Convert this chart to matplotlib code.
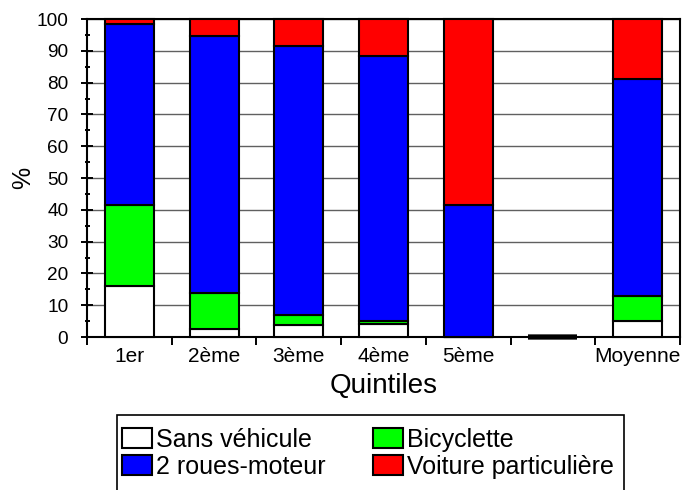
import numpy as np
import matplotlib
matplotlib.use('Agg')
import matplotlib.pyplot as plt
from matplotlib.ticker import MultipleLocator
from matplotlib.patches import Rectangle

plt.rcParams['font.family'] = ['Liberation Sans', 'DejaVu Sans']

quintiles = ['1er', '2ème', '3ème', '4ème', '5ème', '', 'Moyenne']
sans_vehicule = [16.0, 2.5, 3.8, 4.1, 0.0, 0.0, 5.1]
bicyclette = [25.5, 11.4, 3.1, 0.9, 0.0, 0.0, 7.8]
deux_roues = [57.0, 80.9, 84.6, 83.4, 41.5, 0.0, 68.3]
voiture = [1.5, 5.2, 8.5, 11.6, 58.5, 0.0, 18.8]

fig = plt.figure(figsize=(6.82, 4.90), dpi=100)
ax = fig.add_axes([0.1276, 0.3122, 0.8694, 0.6490])

x = np.arange(len(quintiles))
w = 0.58
bas = np.zeros(len(x))
series = [(sans_vehicule, '#ffffff', 'Sans véhicule'),
          (bicyclette, '#00ff00', 'Bicyclette'),
          (deux_roues, '#0000ff', '2 roues-moteur'),
          (voiture, '#ff0000', 'Voiture particulière')]
total = np.sum([s[0] for s in series], axis=0)
# une barre vide apparait comme un trait epais sur l'axe
epaisseur = [1.5 if t > 0 else 3.2 for t in total]
handles = []
for vals, col, lab in series:
    b = ax.bar(x, vals, w, bottom=bas, color=col, edgecolor='black',
               linewidth=epaisseur, label=lab, zorder=3, clip_on=False)
    handles.append(b)
    bas = bas + np.array(vals)

ax.set_xlim(-0.5, len(x) - 0.5)
ax.set_ylim(0, 100)
ax.yaxis.set_major_locator(MultipleLocator(10))
ax.yaxis.set_minor_locator(MultipleLocator(5))
ax.set_xticks(x)
ax.set_xticklabels(quintiles, fontsize=15)
ax.tick_params(axis='x', length=0, pad=7)
ax.set_xticks(np.arange(len(x) + 1) - 0.5, minor=True)
ax.tick_params(axis='x', which='minor', direction='out', length=6, width=1.4)
ax.tick_params(axis='y', which='major', direction='inout', length=8, width=1.4, labelsize=13.7, pad=9.5)
ax.tick_params(axis='y', which='minor', direction='inout', length=3.6, width=1.4)
ax.yaxis.grid(True, color='#606060', linewidth=1, zorder=0)
ax.set_axisbelow(True)
for s in ax.spines.values():
    s.set_linewidth(1.5)

ax.set_ylabel('%', fontsize=18, labelpad=1)
ax.set_xlabel('Quintiles', fontsize=20, labelpad=5)

# cadre de la legende (coupe en bas dans l'original)
cadre = Rectangle((117/682, -0.05), (624 - 117)/682, (490 - 415)/490 + 0.05,
                  transform=fig.transFigure, facecolor='white', edgecolor='black',
                  linewidth=1.2, zorder=1)
fig.patches.append(cadre)

# ordre ligne par ligne comme dans l'original
ordre = [handles[0], handles[2], handles[1], handles[3]]
leg = fig.legend(handles=ordre, loc='upper left', bbox_to_anchor=(122/682, 1 - 428/490),
                 ncol=2, fontsize=18, frameon=False,
                 handlelength=1.2, handleheight=0.85, handletextpad=0.15, columnspacing=1.9,
                 borderpad=0, labelspacing=0.1, borderaxespad=0)
leg.set_zorder(2)

fig.savefig('out.png', dpi=100)
